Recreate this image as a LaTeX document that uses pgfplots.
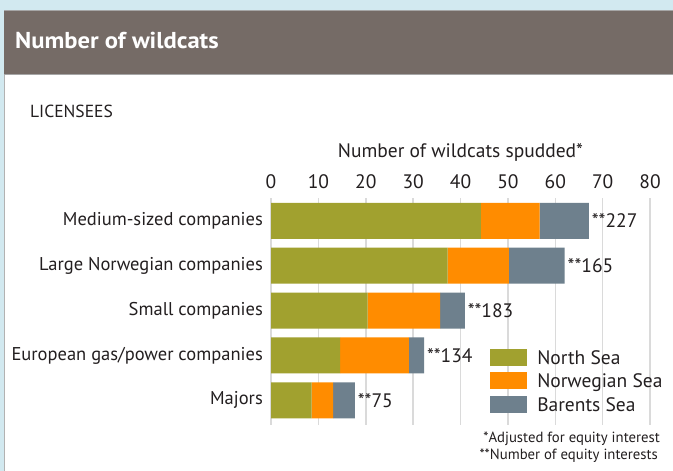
\documentclass[border=0pt]{standalone}
\usepackage{pgfplots}
\usepackage{pgfplotstable}
\pgfplotsset{compat=1.18}
\usepackage{fontspec}
\setmainfont{PT Sans}
\newfontfamily\titlefont[FakeStretch=1.07]{PT Sans}
\definecolor{bgblue}{HTML}{D2E9F0}
\definecolor{header}{HTML}{756B66}
\definecolor{northsea}{HTML}{A1A12F}
\definecolor{norwsea}{HTML}{FF8C00}
\definecolor{barsea}{HTML}{6E808D}
\definecolor{gridgray}{HTML}{DADADA}
\definecolor{txt}{HTML}{231F20}
\pgfplotstableread{
pos north norw bar label
4 44.3 12.4 10.4 **227
3 37.3 12.9 11.8 **165
2 20.4 15.3 5.2 **183
1 14.6 14.5 3.2 **134
0 8.6 4.5 4.6 **75
}\datatable
\newcommand{\mainsize}{\fontsize{19.5bp}{23bp}\selectfont}
\newcommand{\labsize}{\fontsize{18.5bp}{22bp}\selectfont}
\begin{document}
\begin{tikzpicture}[x=1bp,y=1bp]
\useasboundingbox (0,0) rectangle (673,471);
\fill[bgblue] (0,0) rectangle (673,471);
\fill[white] (4,-5) rectangle (680,461);
\draw[gray!60, line width=1bp] (4,-5) -- (4,461);
\fill[header] (4,396) rectangle (680,460);
\draw[gray!70, line width=1bp] (4,460) -- (680,460);
\draw[gray!70, line width=1bp] (4,396) -- (680,396);
\node[anchor=base west, text=white, font=\titlefont\bfseries\fontsize{23bp}{27bp}\selectfont, inner sep=0pt] at (15,422.7) {Number of wildcats};
\node[anchor=west, text=txt, font=\fontsize{17.5bp}{20bp}\selectfont, inner sep=0pt] at (30,360) {LICENSEES};
\begin{axis}[
  at={(271bp,46bp)}, anchor=south west,
  scale only axis, width=379bp, height=227bp,
  xbar stacked, bar width=36bp,
  xmin=0, xmax=80, ymin=-0.55, ymax=4.51,
  xtick={0,10,...,80},
  ytick={0,1,2,3,4},
  yticklabels={Majors,European gas/power companies,Small companies,Large Norwegian companies,Medium-sized companies},
  xticklabel pos=upper,
  /pgf/number format/assume math mode=true,
  xticklabel style={font=\mainsize, text=txt, anchor=base, inner sep=0pt, yshift=9.7bp},
  yticklabel style={font=\labsize, text=txt, anchor=east, inner sep=0pt, xshift=-8bp},
  major tick length=0pt,
  axis line style={draw=none},
  xmajorgrids, grid style={line width=1.5bp, gridgray},
  title={Number of wildcats spudded*},
  title style={at={(axis description cs:0.5,1)}, anchor=center, yshift=40bp, font=\mainsize, text=txt, inner sep=0pt},
  legend style={draw=none, fill=none, inner sep=0pt, at={(rel axis cs:0.578,0.337)}, anchor=north west, row sep=4bp,
    font=\mainsize, text=txt, nodes={inner sep=0pt, text height=13bp, text depth=4bp}},
  legend cell align=left,
  legend image code/.code={\fill[#1] (0bp,-6bp) rectangle (37bp,11bp); \path (47bp,0bp);},
]
\addplot[fill=northsea, draw=none] table[x=north, y=pos] {\datatable};
\addplot[fill=norwsea, draw=none] table[x=norw, y=pos] {\datatable};
\addplot[fill=barsea, draw=none, nodes near coords={\rlap{\pgfplotspointmeta}}, point meta=explicit symbolic,
  visualization depends on={\thisrow{bar} \as \barval},
  every node near coord/.append style={inner sep=0pt, xshift={2.36875bp*\barval+3bp}, text=txt, font=\mainsize}]
  table[x=bar, y=pos, meta=label] {\datatable};
\legend{North Sea, Norwegian Sea, Barents Sea}
\end{axis}
\node[anchor=east, text=txt, font=\fontsize{14.75bp}{17bp}\selectfont, inner sep=0pt] at (660,32) {*Adjusted for equity interest};
\node[anchor=east, text=txt, font=\fontsize{14.75bp}{17bp}\selectfont, inner sep=0pt] at (658,15) {**Number of equity interests};
\end{tikzpicture}
\end{document}
